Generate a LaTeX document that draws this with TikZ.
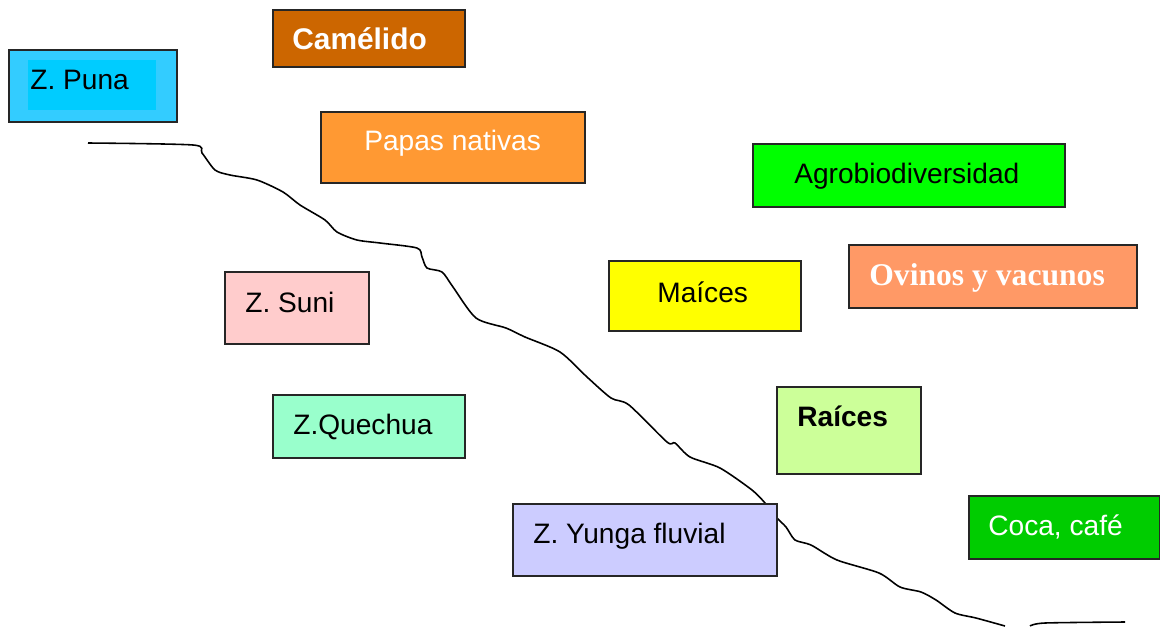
\documentclass[tikz,border=0pt]{standalone}
\usepackage{fontspec}
\setmainfont{Liberation Sans}
\newfontfamily\timesbf{Liberation Serif}
\usepackage{xcolor}
\definecolor{camelido}{HTML}{CC6600}
\definecolor{puna}{HTML}{33CCFF}
\definecolor{punain}{HTML}{00CCFF}
\definecolor{papas}{HTML}{FF9933}
\definecolor{agro}{HTML}{00FF00}
\definecolor{suni}{HTML}{FFCCCC}
\definecolor{maices}{HTML}{FFFF00}
\definecolor{ovinos}{HTML}{FF9966}
\definecolor{raices}{HTML}{CCFF99}
\definecolor{quechua}{HTML}{99FFCC}
\definecolor{yunga}{HTML}{CCCCFF}
\definecolor{coca}{HTML}{00CC00}

\begin{document}
\begin{tikzpicture}[x=0.02cm,y=-0.02cm]
\tikzstyle{every node}+=[inner sep=0pt]
\tikzstyle{caja}=[draw=black!85, line width=0.95pt, anchor=north west]
\tikzstyle{rotulo}=[anchor=base west, font=\fontsize{16}{19}\selectfont]
\useasboundingbox (0,0) rectangle (1160,626);
% perfil del terreno
\draw [black, line width=0.9pt] plot [smooth, tension=0.45] coordinates {(88,143) (193,145) (202,153) (215,170) (230,175) (257,180) (283,192) (300,205) (325,220) (337,232) (357,240) (380,243) (417,248) (422,257) (427,268) (442,272) (453,287) (476,318) (506,328) (525,337) (560,352) (587,377) (611,398) (629,405) (667,442) (675,443) (690,457) (720,468) (752,490) (765,503) (776,517) (786,527) (795,540) (811,545) (837,560) (879,573) (900,587) (921,592) (936,600) (955,613) (976,618) (1005,626)};
\draw [black, line width=0.9pt] plot [smooth, tension=0.45] coordinates {(1030,626) (1045,623) (1125,622)};
% zonas
\node [caja, fill=puna, minimum width=3.36cm, minimum height=1.44cm] (puna) at (8,49) {};
\node [fill=punain, anchor=north west, minimum width=2.56cm, minimum height=1cm] (punain) at (28,60) {};
\node [rotulo] (punat) at (30,89) {Z. Puna};
\node [caja, fill=suni, minimum width=2.88cm, minimum height=1.44cm] (suni) at (224,271) {};
\node [rotulo] (sunit) at (245,312) {Z. Suni};
\node [caja, fill=quechua, minimum width=3.84cm, minimum height=1.26cm] (quechua) at (272,394) {};
\node [rotulo] (quechuat) at (293,434) {Z.Quechua};
\node [caja, fill=yunga, minimum width=5.28cm, minimum height=1.44cm] (yunga) at (512,503) {};
\node [rotulo] (yungat) at (533,543) {Z. Yunga fluvial};
% cultivos y crianzas
\node [caja, fill=camelido, minimum width=3.84cm, minimum height=1.14cm] (camel) at (272,9) {};
\node [rotulo, text=white, font=\fontsize{17}{20}\selectfont\bfseries] (camelt) at (292,49) {Camélido};
\node [caja, fill=papas, minimum width=5.28cm, minimum height=1.42cm] (papas) at (320,111) {};
\node [rotulo, text=white] (papast) at (364,150) {Papas nativas};
\node [caja, fill=agro, minimum width=6.24cm, minimum height=1.26cm] (agro) at (752,143) {};
\node [rotulo] (agrot) at (794,183) {Agrobiodiversidad};
\node [caja, fill=maices, minimum width=3.84cm, minimum height=1.40cm] (maices) at (608,260) {};
\node [rotulo] (maicest) at (657,302) {Maíces};
\node [caja, fill=ovinos, minimum width=5.76cm, minimum height=1.26cm] (ovinos) at (848,244) {};
\node [rotulo, text=white, font=\fontsize{18}{21}\timesbf\bfseries] (ovinost) at (869,285) {Ovinos y vacunos};
\node [caja, fill=raices, minimum width=2.88cm, minimum height=1.74cm] (raices) at (776,386) {};
\node [rotulo, font=\fontsize{16}{19}\selectfont\bfseries] (raicest) at (797,426) {Raíces};
\node [caja, fill=coca, minimum width=3.82cm, minimum height=1.26cm] (coca) at (968,495) {};
\node [rotulo, text=white] (cocat) at (988,535) {Coca, café};
\end{tikzpicture}
\end{document}
